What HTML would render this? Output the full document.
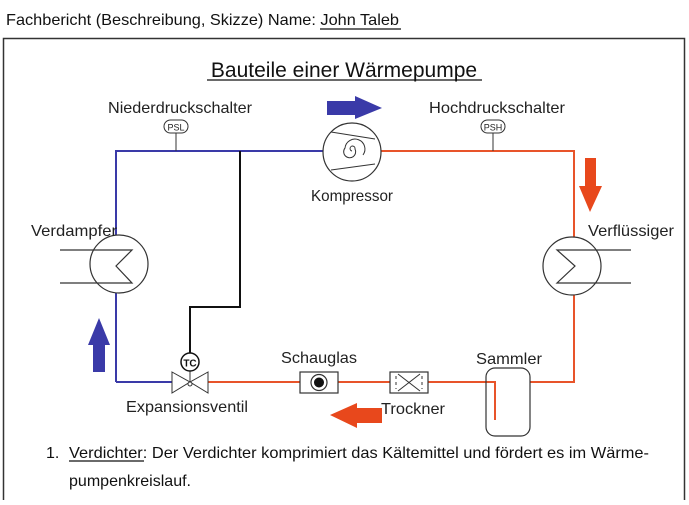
<!DOCTYPE html>
<html><head><meta charset="utf-8"><style>
html,body{margin:0;padding:0;background:#fff;}
body{width:689px;height:500px;overflow:hidden;position:relative;font-family:"Liberation Sans",Arial,sans-serif;}
svg text{font-family:"Liberation Sans",Arial,sans-serif;}
</style></head><body>
<svg width="689" height="500" viewBox="0 0 689 500" xmlns="http://www.w3.org/2000/svg">
<text x="6" y="25" font-size="16" fill="#111" textLength="393" lengthAdjust="spacingAndGlyphs">Fachbericht (Beschreibung, Skizze) Name: John Taleb</text>
<line x1="320" y1="29" x2="401" y2="29" stroke="#111" stroke-width="1.2"/>
<rect x="3.5" y="38.5" width="681" height="470" fill="none" stroke="#333" stroke-width="1.5"/>
<text x="344" y="77" font-size="21" text-anchor="middle" fill="#111">Bauteile einer Wärmepumpe</text>
<line x1="207" y1="80" x2="482" y2="80" stroke="#111" stroke-width="1.3"/>

<!-- pipes -->
<polyline points="116,382 116,151 323,151" fill="none" stroke="#3a3aa8" stroke-width="2"/>
<line x1="116" y1="382" x2="173" y2="382" stroke="#3a3aa8" stroke-width="2"/>
<polyline points="381,151 574,151 574,382 530,382" fill="none" stroke="#e8542a" stroke-width="2"/>
<polyline points="208,382 495,382 495,420" fill="none" stroke="#e8542a" stroke-width="2"/>
<polyline points="240,151 240,307 190,307 190,354" fill="none" stroke="#111" stroke-width="2"/>

<!-- PSL / PSH -->
<line x1="176" y1="133" x2="176" y2="151" stroke="#333" stroke-width="1"/>
<rect x="164" y="120" width="24" height="13" rx="6.5" fill="#fff" stroke="#333"/>
<text x="176" y="130.5" font-size="9" text-anchor="middle" fill="#222">PSL</text>
<line x1="493" y1="133" x2="493" y2="151" stroke="#333" stroke-width="1"/>
<rect x="481" y="120" width="24" height="13" rx="6.5" fill="#fff" stroke="#333"/>
<text x="493" y="130.5" font-size="9" text-anchor="middle" fill="#222">PSH</text>
<text x="180" y="113" font-size="16" text-anchor="middle" fill="#222" textLength="144" lengthAdjust="spacingAndGlyphs">Niederdruckschalter</text>
<text x="497" y="113" font-size="16" text-anchor="middle" fill="#222" textLength="136" lengthAdjust="spacingAndGlyphs">Hochdruckschalter</text>

<!-- compressor -->
<circle cx="352" cy="152" r="29" fill="#fff" stroke="#333" stroke-width="1.2"/>
<line x1="331" y1="132" x2="375" y2="139" stroke="#333"/>
<line x1="331" y1="170" x2="375" y2="164" stroke="#333"/>
<path d="M352,151 a2.5,2.5 0 1 1 3,-2 a6,6 0 1 1 -10,-1 a10,10 0 1 1 18,7" fill="none" stroke="#333"/>
<text x="352" y="201" font-size="16" text-anchor="middle" fill="#222" textLength="82" lengthAdjust="spacingAndGlyphs">Kompressor</text>
<polygon points="327,101 355,101 355,96 382,108 355,119 355,115 327,115" fill="#3a3aa8"/>

<!-- Verdampfer -->
<circle cx="119" cy="264" r="29" fill="#fff" stroke="#333" stroke-width="1.2"/>
<polyline points="60,250 132,250 116,266 132,283 60,283" fill="none" stroke="#333" stroke-width="1.2"/>
<text x="31" y="236" font-size="16" fill="#222" textLength="86" lengthAdjust="spacingAndGlyphs">Verdampfer</text>
<polygon points="99,318 110,345 105,345 105,372 93,372 93,345 88,345" fill="#3a3aa8"/>

<!-- Verflüssiger -->
<circle cx="572" cy="266" r="29" fill="#fff" stroke="#333" stroke-width="1.2"/>
<polyline points="631,250 557,250 575,266 557,283 631,283" fill="none" stroke="#333" stroke-width="1.2"/>
<text x="588" y="236" font-size="16" fill="#222" textLength="86" lengthAdjust="spacingAndGlyphs">Verflüssiger</text>
<polygon points="585,158 596,158 596,186 602,186 590,212 579,186 585,186" fill="#e8481c"/>

<!-- valve -->
<polygon points="172,372 190,382 172,393" fill="#fff" stroke="#333"/>
<polygon points="208,372 190,382 208,393" fill="#fff" stroke="#333"/>
<circle cx="190" cy="384" r="2" fill="#fff" stroke="#333"/>
<line x1="190" y1="370" x2="190" y2="382" stroke="#333"/>
<circle cx="190" cy="362" r="9" fill="#fff" stroke="#111" stroke-width="1.5"/>
<text x="190" y="366.5" font-size="10" font-weight="bold" text-anchor="middle" fill="#111">TC</text>
<text x="187" y="412" font-size="16" text-anchor="middle" fill="#222" textLength="122" lengthAdjust="spacingAndGlyphs">Expansionsventil</text>

<!-- Schauglas -->
<rect x="300" y="372" width="38" height="21" fill="#fff" stroke="#333" stroke-width="1.2"/>
<circle cx="319" cy="382.5" r="8" fill="#fff" stroke="#333" stroke-width="1.2"/>
<circle cx="319" cy="382.5" r="5" fill="#111"/>
<text x="319" y="363" font-size="16" text-anchor="middle" fill="#222" textLength="76" lengthAdjust="spacingAndGlyphs">Schauglas</text>

<!-- Trockner -->
<rect x="390" y="372" width="38" height="21" fill="#fff" stroke="#333" stroke-width="1.2"/>
<line x1="398" y1="374" x2="420" y2="391" stroke="#333"/>
<line x1="398" y1="391" x2="420" y2="374" stroke="#333"/>
<line x1="396" y1="376" x2="396" y2="389" stroke="#333" stroke-dasharray="3,3"/>
<line x1="422" y1="376" x2="422" y2="389" stroke="#333" stroke-dasharray="3,3"/>
<text x="413" y="414" font-size="16" text-anchor="middle" fill="#222" textLength="64" lengthAdjust="spacingAndGlyphs">Trockner</text>
<polygon points="330,415 357,403 357,408 382,408 382,423 357,423 357,428" fill="#e8481c"/>

<!-- Sammler -->
<rect x="486" y="368" width="44" height="68" rx="9" fill="none" stroke="#333" stroke-width="1.2"/>
<text x="509" y="364" font-size="16" text-anchor="middle" fill="#222" textLength="66" lengthAdjust="spacingAndGlyphs">Sammler</text>

<!-- list -->
<text x="46" y="458" font-size="16" fill="#111">1.</text>
<text x="69" y="458" font-size="16" fill="#111" textLength="580" lengthAdjust="spacingAndGlyphs">Verdichter: Der Verdichter komprimiert das Kältemittel und fördert es im Wärme-</text>
<line x1="69" y1="461" x2="144" y2="461" stroke="#111" stroke-width="1.2"/>
<text x="69" y="486" font-size="16" fill="#111" textLength="122" lengthAdjust="spacingAndGlyphs">pumpenkreislauf.</text>
</svg>
</body></html>
